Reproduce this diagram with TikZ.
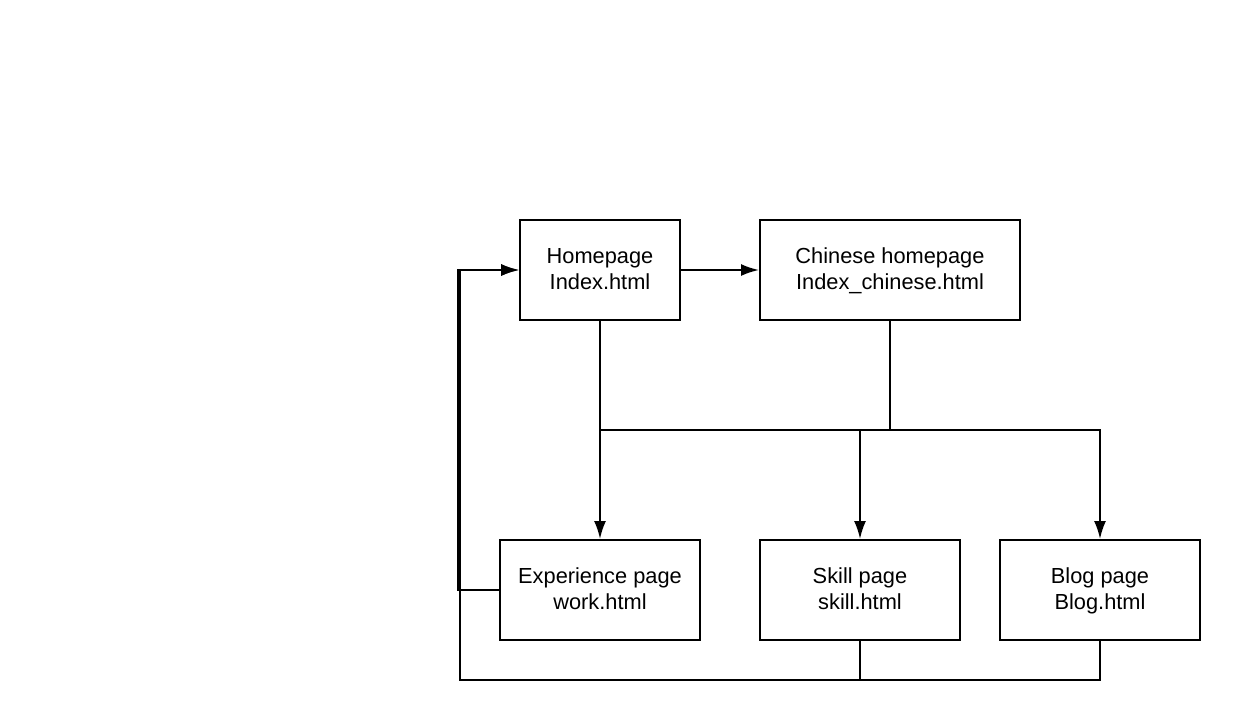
\documentclass[tikz,border=0pt]{standalone}
\usepackage{fontspec}
\setmainfont{Liberation Sans}
\usetikzlibrary{arrows.meta}
\newcommand\mytopstrut{\rule{0pt}{20.5pt}}
\newcommand\mybotstrut{\rule[-7.7pt]{0pt}{7.7pt}}
\begin{document}
\begin{tikzpicture}[x=1pt,y=-1pt,
  pagebox/.style={draw=black,line width=2pt,fill=white,inner sep=0pt,align=center,
    font=\fontsize{21.8}{25.8}\selectfont},
  link/.style={draw=black,line width=2pt},
  arr/.style={link,-{Latex[length=18pt,width=12pt]}}]
\useasboundingbox (0,0) rectangle (1240,721);
\node[pagebox,minimum width=160pt,minimum height=100pt] (h) at (600,270) {\mytopstrut Homepage\\Index.html\mybotstrut};
\node[pagebox,minimum width=260pt,minimum height=100pt] (c) at (890,270) {\mytopstrut Chinese homepage\\Index\_chinese.html\mybotstrut};
\node[pagebox,minimum width=200pt,minimum height=100pt] (e) at (600,590) {\mytopstrut Experience page\\work.html\mybotstrut};
\node[pagebox,minimum width=200pt,minimum height=100pt] (s) at (860,590) {\mytopstrut Skill page\\skill.html\mybotstrut};
\node[pagebox,minimum width=200pt,minimum height=100pt] (b) at (1100,590) {\mytopstrut Blog page\\Blog.html\mybotstrut};
\coordinate (j1) at (600,430);
\coordinate (l1) at (458,590);
\coordinate (bt) at (460,680);
\draw[arr] (h.east) -- (c.west);
\draw[arr] (h.south) -- (e.north);
\draw[link] (c.south) -- (c.south |- j1);
\draw[arr] (j1) -| (s.north);
\draw[arr] (j1) -| (b.north);
\draw[arr] (e.west) -- (l1) |- (h.west);
\draw[link] (s.south) -- (s.south |- bt);
\draw[arr] (b.south) |- (bt) |- (h.west);
\end{tikzpicture}
\end{document}
